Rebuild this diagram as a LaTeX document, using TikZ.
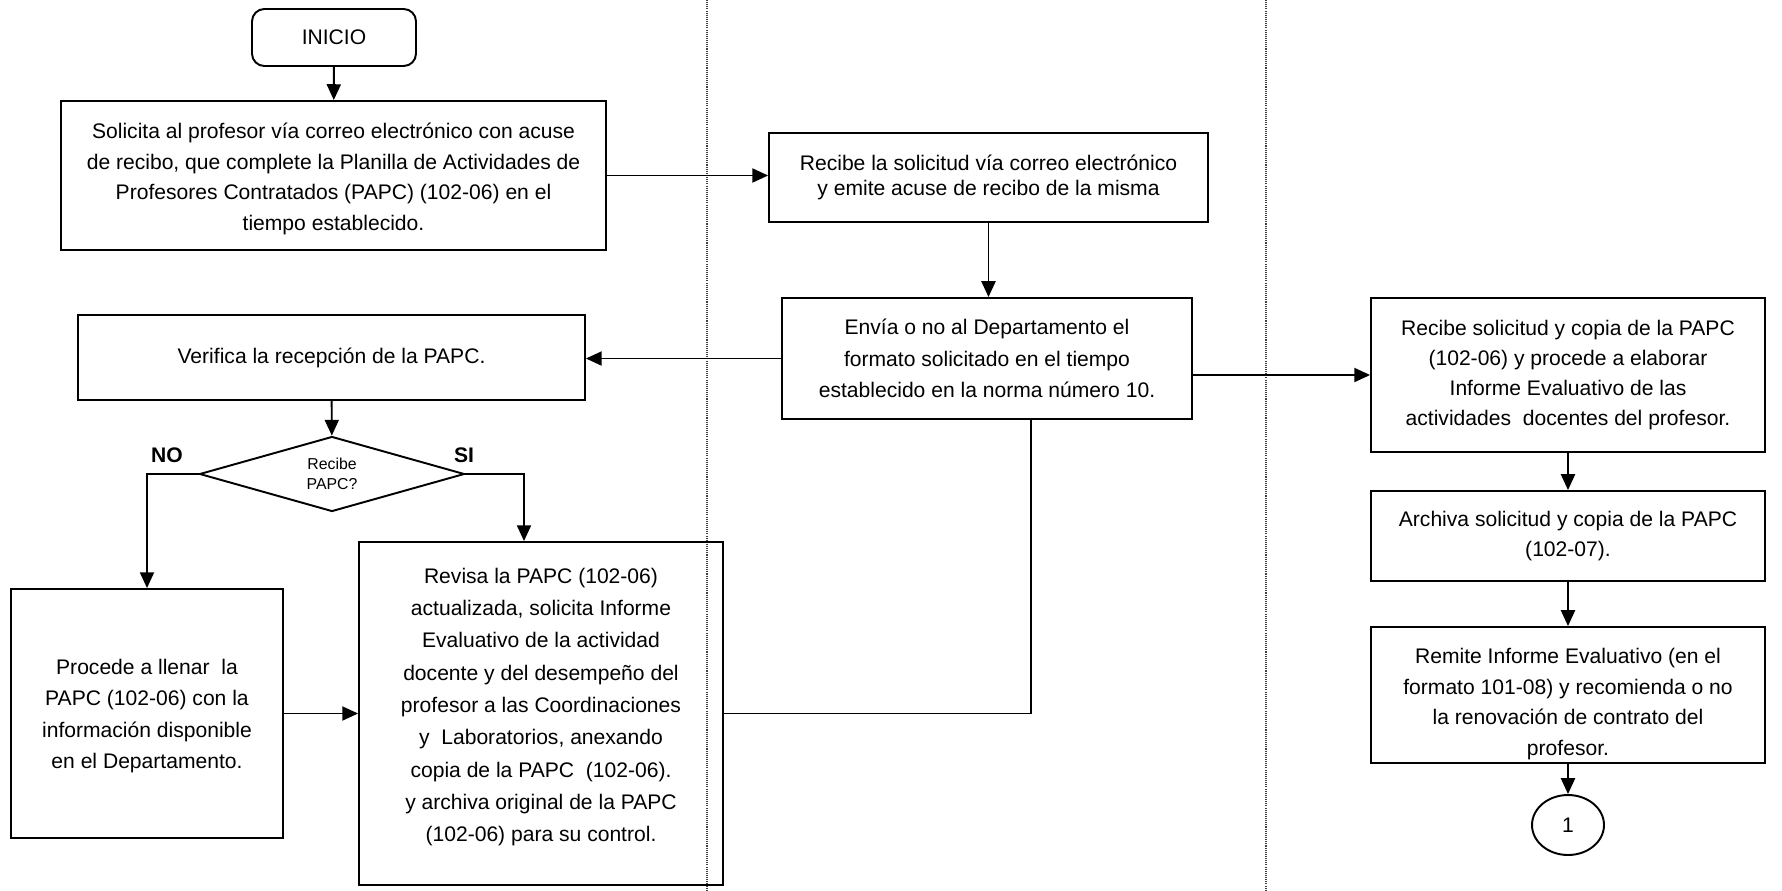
\documentclass[tikz,border=0pt]{standalone}
\usepackage{fontspec}
\setmainfont{Liberation Sans}
\usetikzlibrary{shapes.geometric,arrows.meta,calc}
\begin{document}
\begin{tikzpicture}[x=0.02cm,y=-0.02cm,
  arr/.style={-{Triangle[length=9pt,width=8pt]}, line width=1.1pt},
  ln/.style={line width=1.1pt},
  box/.style={draw, line width=1.1pt, align=center, inner sep=0pt},
  rbox/.style={box, font=\fontsize{12}{18}\selectfont},
  txt/.style={align=center, inner sep=0pt},
  lane/.style={dash pattern=on 0.6pt off 0.6pt, line width=0.6pt, draw=black!75}
]
\useasboundingbox (0,0) rectangle (1782,890);
\fill[white] (0,0) rectangle (1782,890);
% swimlane separators
\draw[lane] (707,0) -- (707,890);
\draw[lane] (1266,0) -- (1266,890);

\node[rbox, rounded corners=7pt, minimum width=3.28cm, minimum height=1.14cm] (inicio) at (334,37.5) {INICIO};
\node[box, minimum width=10.9cm, minimum height=2.98cm] (b1) at (333.5,175.5) {};
\node[txt, font=\fontsize{12}{17.4}\selectfont] (b1t) at (333.5,179)
  {Solicita al profesor vía correo electrónico con acuse\\de recibo, que complete la Planilla de Actividades de\\Profesores Contratados (PAPC) (102-06) en el\\tiempo establecido.};
\node[rbox, font=\fontsize{12}{14.7}\selectfont, minimum width=8.78cm, minimum height=1.78cm] (b2) at (988.5,177.5)
  {Recibe la solicitud vía correo electrónico\\y emite acuse de recibo de la misma};
\node[rbox, minimum width=8.2cm, minimum height=2.42cm] (b3) at (987,358.5)
  {Envía o no al Departamento el\\formato solicitado en el tiempo\\establecido en la norma número 10.};
\node[rbox, minimum width=10.14cm, minimum height=1.7cm] (ver) at (331.5,357.5)
  {Verifica la recepción de la PAPC.};
\node[draw, diamond, aspect=3.5, line width=1.1pt, inner sep=0pt, align=center, minimum width=5.3cm, minimum height=1.5cm,
  font=\fontsize{9}{11.6}\selectfont] (dia) at (332,474) {Recibe\\PAPC?};
\node[font=\bfseries\fontsize{12}{14}\selectfont] (no) at (167,455) {NO};
\node[font=\bfseries\fontsize{12}{14}\selectfont] (si) at (464,455) {SI};
\node[box, minimum width=5.44cm, minimum height=4.98cm] (proc) at (147,713.5) {};
\node[txt, font=\fontsize{12}{18}\selectfont] (proct) at (147,716)
  {Procede a llenar~ la\\PAPC (102-06) con la\\información disponible\\en el Departamento.};
\node[box, minimum width=7.28cm, minimum height=6.86cm] (rev) at (541,713.5) {};
\node[txt, font=\fontsize{12}{18.4}\selectfont] (revt) at (541,707)
  {Revisa la PAPC (102-06)\\actualizada, solicita Informe\\Evaluativo de la actividad\\docente y del desempeño del\\profesor a las Coordinaciones\\y~ Laboratorios, anexando\\copia de la PAPC~ (102-06).\\y archiva original de la PAPC\\(102-06) para su control.};

\node[rbox, font=\fontsize{12}{17}\selectfont, minimum width=7.88cm, minimum height=3.08cm] (r1) at (1568,375)
  {Recibe solicitud y copia de la PAPC\\(102-06) y procede a elaborar\\Informe Evaluativo de las\\actividades~ docentes del profesor.};
\node[rbox, font=\fontsize{12}{17.4}\selectfont, minimum width=7.88cm, minimum height=1.8cm] (r2) at (1568,536)
  {Archiva solicitud y copia de la PAPC\\(102-07).};
\node[box, minimum width=7.88cm, minimum height=2.72cm] (r3) at (1568,695) {};
\node[txt, font=\fontsize{12}{17.4}\selectfont] (r3t) at (1568,704)
  {Remite Informe Evaluativo (en el\\formato 101-08) y recomienda o no\\la renovación de contrato del\\profesor.};
\node[draw, ellipse, line width=1.1pt, inner sep=0pt, minimum width=1.44cm, minimum height=1.2cm,
  font=\fontsize{12}{14}\selectfont] (c1) at (1568,825) {1};

% connectors
\draw[arr] (inicio) -- (b1);
\draw[arr] (b1.east) -- (b1.east -| b2.west);
\draw[arr] (b2.south) -- (b2.south |- b3.north);
\draw[arr] (b3.west) -- (b3.west -| ver.east);
\draw[arr] (b3.east |- r1.west) -- (r1.west);
\draw[arr] (ver) -- (dia);
\draw[arr] (dia.west) -| (proc.north);
\draw[arr] (dia.east) -| ($(rev.north)+(-17,0)$);
\draw[arr] (proc.east) -- (proc.east -| rev.west);
\draw[ln] ($(b3.south)+(44,0)$) |- (rev.east);
\draw[arr] (r1) -- (r2);
\draw[arr] (r2) -- (r3);
\draw[arr] (r3) -- (c1);
\end{tikzpicture}
\end{document}
